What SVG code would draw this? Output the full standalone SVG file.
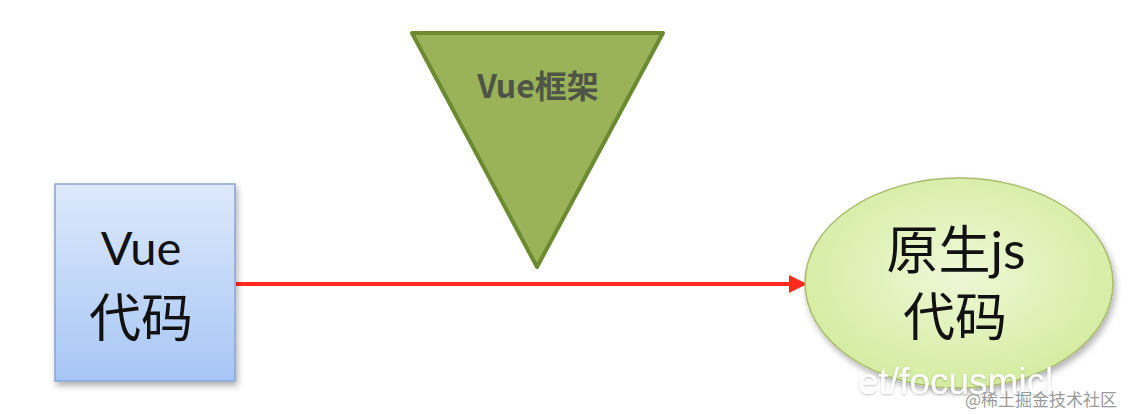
<svg xmlns="http://www.w3.org/2000/svg" width="1130" height="414" viewBox="0 0 1130 414">
  <defs>
    <linearGradient id="boxFill" x1="0" y1="0" x2="0" y2="1">
      <stop offset="0" stop-color="#dde9fc"/>
      <stop offset="1" stop-color="#a7c6f5"/>
    </linearGradient>
    <radialGradient id="ellFill" cx="0.5" cy="0.45" r="0.6">
      <stop offset="0" stop-color="#eef8d6"/>
      <stop offset="1" stop-color="#d3eb9c"/>
    </radialGradient>
    <filter id="shadow" x="-10%" y="-10%" width="130%" height="130%">
      <feDropShadow dx="2" dy="4" stdDeviation="3" flood-color="#000" flood-opacity="0.3"/>
    </filter>
    <filter id="textShadow" x="-5%" y="-20%" width="110%" height="140%">
      <feDropShadow dx="0" dy="1" stdDeviation="1.2" flood-color="#000" flood-opacity="0.25"/>
    </filter>
    <marker id="arrow" viewBox="0 0 10 10" refX="10" refY="5" markerWidth="5" markerHeight="4.5" markerUnits="strokeWidth" orient="auto">
      <path d="M0,0 L10,5 L0,10 Z" fill="#ff2a1e"/>
    </marker>
    <style>
      .cjk { font-family: "Noto Sans CJK SC", "Noto Sans", sans-serif; }
      .big { font-family: Lato, "Noto Sans CJK SC", sans-serif; fill: #111; text-anchor: middle; }
    </style>
  </defs>
  <rect width="1130" height="414" fill="#ffffff"/>

  <g id="connectors">
    <line x1="236" y1="284" x2="807" y2="284" stroke="#ff2a1e" stroke-width="4" marker-end="url(#arrow)"/>
  </g>

  <g id="vue-framework">
    <polygon points="412,33 663,33 537,267" fill="#9ab359" stroke="#6c8a32" stroke-width="4" stroke-linejoin="round"/>
    <text x="538" y="98" class="cjk" font-size="32" font-weight="bold" fill="#4e5546" text-anchor="middle">Vue框架</text>
  </g>

  <g id="vue-code">
    <rect x="55" y="184" width="180" height="197" fill="url(#boxFill)" stroke="#87a5d4" stroke-width="1.5" filter="url(#shadow)"/>
    <text x="141" y="265" class="big" font-size="47">Vue</text>
    <text x="141" y="337" class="big" font-size="52">代码</text>
  </g>

  <g id="native-js">
    <ellipse cx="959" cy="283" rx="154" ry="105" fill="url(#ellFill)" stroke="#a9bb6c" stroke-width="1.5" filter="url(#shadow)"/>
    <text x="956" y="269" class="big" font-size="52">原生js</text>
    <text x="955" y="336" class="big" font-size="52">代码</text>
  </g>

  <g id="watermark">
    <text x="858" y="394" font-family="Liberation Sans, Arial, sans-serif" font-size="37" fill="#ffffff" filter="url(#textShadow)">et/focusmicl</text>
    <text x="965" y="406" class="cjk" font-size="17" fill="#9a9a9a">@稀土掘金技术社区</text>
  </g>
</svg>
